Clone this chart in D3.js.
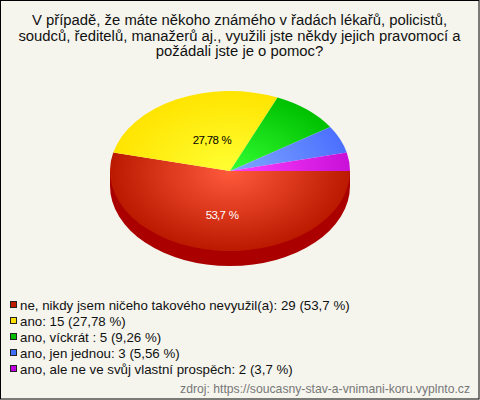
<!DOCTYPE html>
<html><head><meta charset="utf-8">
<script src="https://cdn.jsdelivr.net/npm/d3@7"></script>
<style>html,body{margin:0;padding:0;background:#f5f5ee}svg{display:block}text{font-family:"Liberation Sans",Arial,sans-serif}</style>
</head><body><svg id="c" width="480" height="400"></svg>
<script>
const titleLines = ["V případě, že máte někoho známého v řadách lékařů, policistů,","soudců, ředitelů, manažerů aj., využili jste někdy jejich pravomocí a","požádali jste je o pomoc?"];
const categories = ["ne, nikdy jsem ničeho takového nevyužil(a)","ano","ano, víckrát ","ano, jen jednou","ano, ale ne ve svůj vlastní prospěch"];
const counts = [29,15,5,3,2];
const percents = ["53,7","27,78","9,26","5,56","3,7"];
const swatch = ["#c01c00","#ffe000","#00c000","#4070ff","#c000e0"];
const inner = ["#ff5a3c","#ffff33","#33ff33","#80a8ff","#ff40ff"];
const outer = ["#bb1a00","#ffe400","#00c000","#4c70ff","#c810d8"];
const source = "zdroj: https://soucasny-stav-a-vnimani-koru.vyplnto.cz";

const svg = d3.select("#c");
svg.append("rect").attr("x",0.5).attr("y",0.5).attr("width",478.5).attr("height",398.5).attr("fill","#f5f5ee").attr("stroke","#000");
const cx=230,cy=171,rx=120,ry=80,depth=15;
const defs=svg.append("defs");
inner.forEach((c,i)=>{const g=defs.append("radialGradient").attr("id","g"+i).attr("gradientUnits","userSpaceOnUse").attr("cx",0).attr("cy",0).attr("r",rx);
 g.append("stop").attr("offset",0).attr("stop-color",c);g.append("stop").attr("offset",1).attr("stop-color",outer[i]);});
svg.append("path").attr("d",`M${cx-rx},${cy}L${cx-rx},${cy+depth}A${rx},${ry} 0 0 0 ${cx+rx},${cy+depth}L${cx+rx},${cy}Z`).attr("fill","#aa0000");
const pie=d3.pie().sort(null).startAngle(Math.PI/2).endAngle(Math.PI*2.5)(counts);
const arc=d3.arc().innerRadius(0).outerRadius(rx);
const p=svg.append("g").attr("transform",`translate(${cx},${cy}) scale(1,${ry/rx})`);
p.selectAll("path").data(pie).join("path").attr("d",arc).attr("fill",(d,i)=>`url(#g${i})`);
svg.append("text").attr("x",222).attr("y",219).attr("text-anchor","middle").attr("font-size",11.5).attr("letter-spacing",-0.7).attr("word-spacing",1).attr("fill","#fff").text(percents[0]+" %");
svg.append("text").attr("x",212).attr("y",144).attr("text-anchor","middle").attr("font-size",11.5).attr("letter-spacing",-0.7).attr("word-spacing",1).attr("fill","#000").text(percents[1]+" %");
svg.append("g").selectAll("text").data(titleLines).join("text").attr("x",239.5).attr("y",(d,i)=>25+i*15.5).attr("text-anchor","middle").attr("font-size",14.85).attr("fill","#111").text(d=>d);
const lg=svg.append("g").selectAll("g").data(categories).join("g").attr("transform",(d,i)=>`translate(0,${301+i*16})`);
lg.append("rect").attr("x",10.5).attr("y",0.5).attr("width",6).attr("height",6).attr("fill",(d,i)=>swatch[i]).attr("stroke","#222");
lg.append("text").attr("x",20).attr("y",9).attr("font-size",13.3).attr("fill","#111").text((d,i)=>`${d}: ${counts[i]} (${percents[i]} %)`);
svg.append("text").attr("x",470).attr("y",393).attr("text-anchor","end").attr("font-size",12.2).attr("fill","#777").text(source);
</script></body></html>
